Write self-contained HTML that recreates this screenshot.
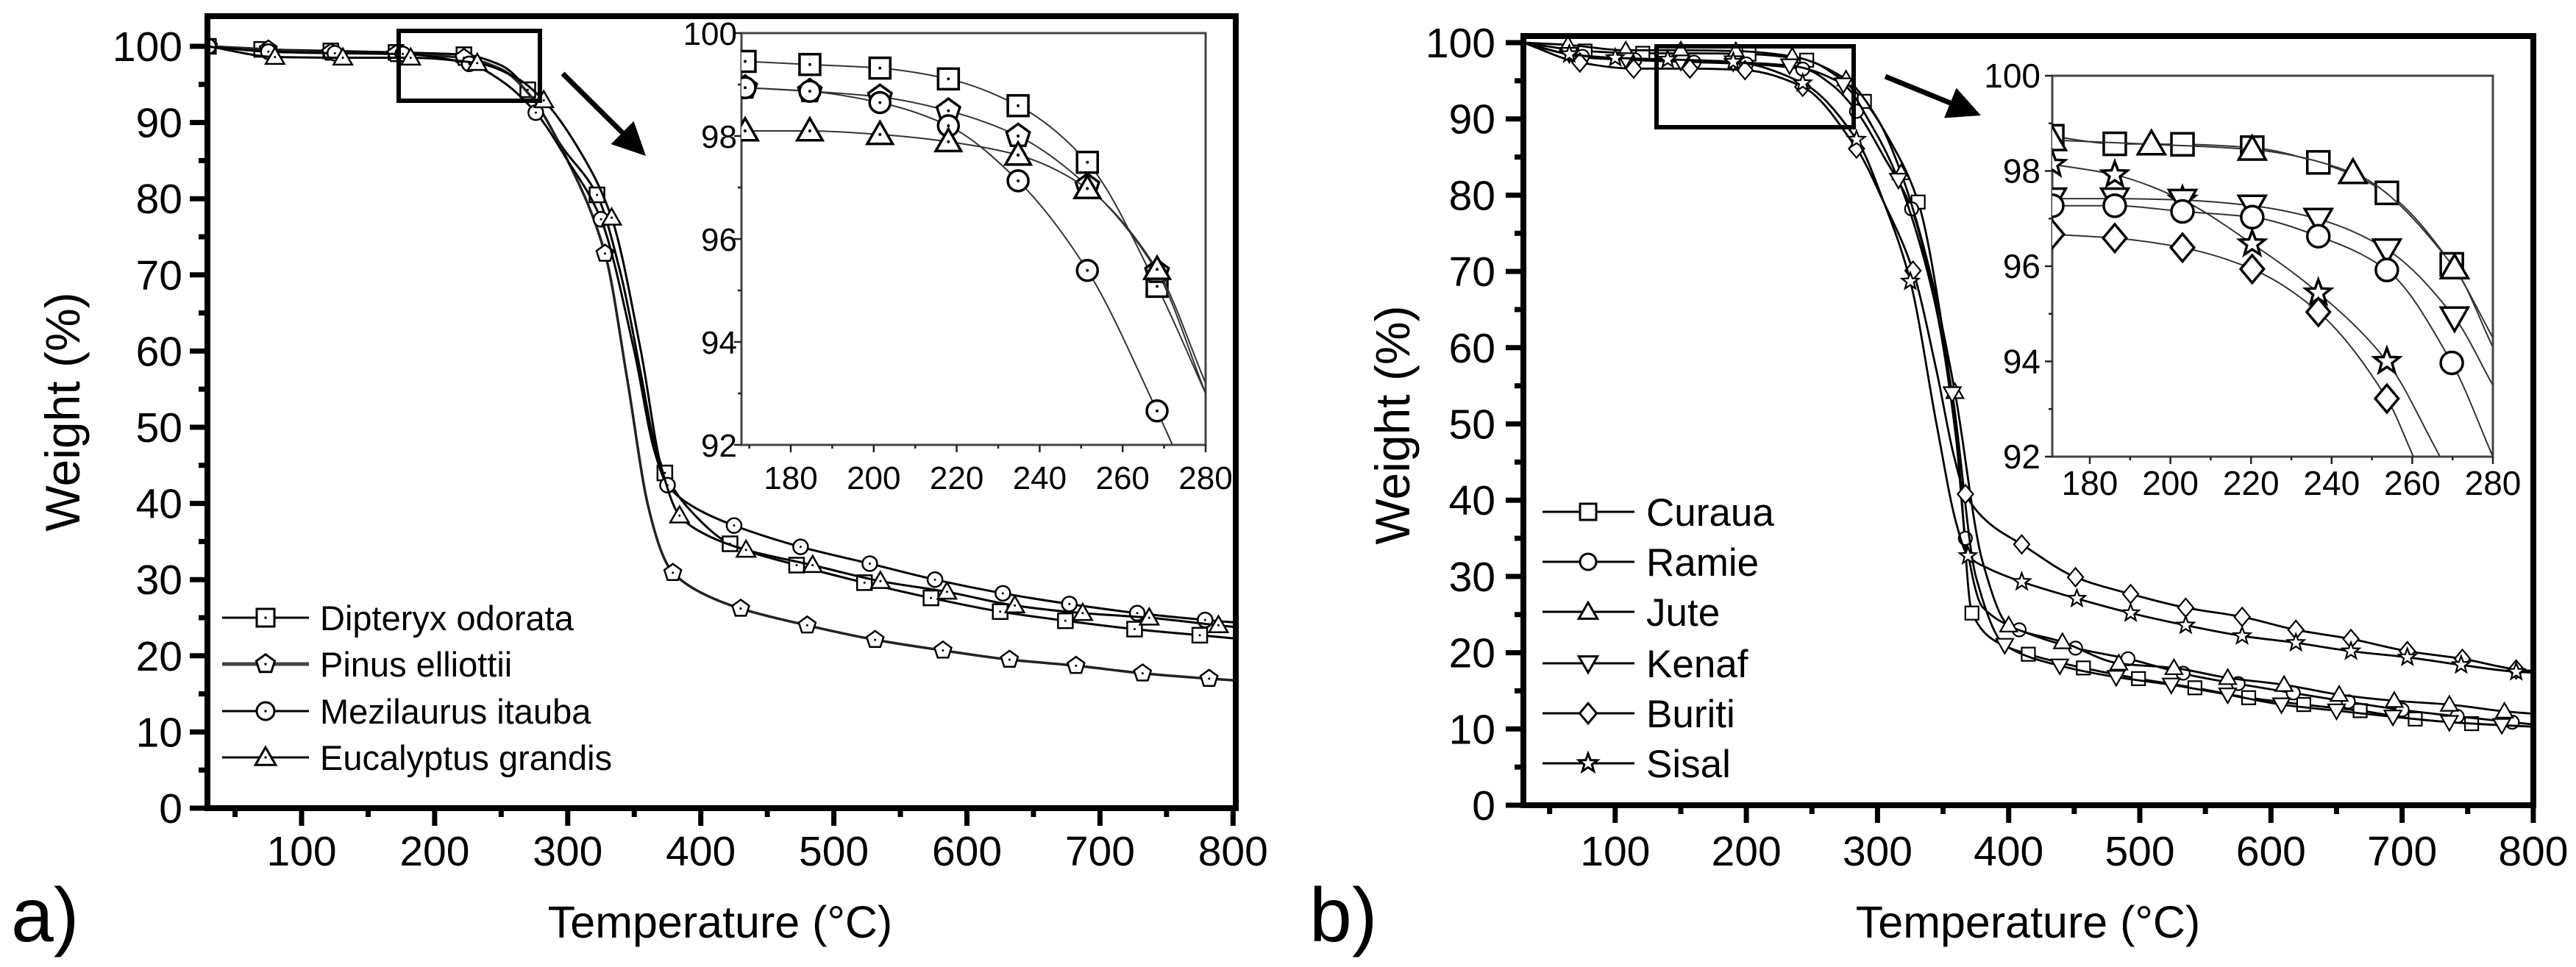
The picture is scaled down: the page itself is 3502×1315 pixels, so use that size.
<!DOCTYPE html>
<html><head><meta charset="utf-8">
<style>
html,body{margin:0;padding:0;background:#fff;}
svg{display:block;font-family:"Liberation Sans",Arial,sans-serif;}
</style></head>
<body>
<svg id="fig" width="3502" height="1315" viewBox="0 0 3502 1315" xmlns="http://www.w3.org/2000/svg">
  <rect x="0" y="0" width="3502" height="1315" fill="#fff"/>
  <defs>
    <clipPath id="clipA"><rect x="286" y="26" width="1390" height="1069"/></clipPath>
    <clipPath id="clipB"><rect x="2075" y="53" width="1365" height="1038"/></clipPath>
    <clipPath id="clipIA"><rect x="1008" y="45" width="631" height="560"/></clipPath>
    <clipPath id="clipIB"><rect x="2790" y="103" width="599" height="518"/></clipPath>
  </defs>
  <g id="panelA"></g>
  <g id="panelB"></g>

  <text x="15" y="1280" font-size="104">a)</text>
  <text x="1780" y="1280" font-size="104">b)</text>
  <text x="979" y="1275" font-size="61" text-anchor="middle">Temperature (°C)</text>
  <text x="2757" y="1275" font-size="61" text-anchor="middle">Temperature (°C)</text>
  <text x="108" y="560" font-size="66" text-anchor="middle" transform="rotate(-90 108 560)">Weight (%)</text>
  <text x="1916" y="578" font-size="66" text-anchor="middle" transform="rotate(-90 1916 578)">Weight (%)</text>

  <g font-size="47">
    <text x="435" y="857">Dipteryx odorata</text>
    <text x="435" y="920">Pinus elliottii</text>
    <text x="435" y="984">Mezilaurus itauba</text>
    <text x="435" y="1047">Eucalyptus grandis</text>
  </g>
  <g font-size="53">
    <text x="2238" y="715">Curaua</text>
    <text x="2238" y="783">Ramie</text>
    <text x="2238" y="851">Jute</text>
    <text x="2238" y="921">Kenaf</text>
    <text x="2238" y="989">Buriti</text>
    <text x="2238" y="1057">Sisal</text>
  </g>
</svg>
<script>
// ---------------- DATA: panel a (main) ----------------
const aDipT = [30,70,122,171,222,250,270,295,322,340,355,365,373,390,422,472,523,573,625,674,726,775,800];
const aDipW = [100,99.6,99.4,99.2,98.9,97.5,94.3,87,80.5,70,57,48,44,39.5,34.7,31.9,29.6,27.6,25.8,24.6,23.5,22.7,22.3];
const aDipM = [30,70,122,171,222,270,322,373,422,472,523,573,625,674,726,775];
const aPinT = [30,75,122,171,222,250,272,300,328,345,360,372,379,400,430,480,531,582,632,682,732,782,800];
const aPinW = [100,99.6,99.2,99.0,98.5,97,93.5,85,72.8,56,40,33,30.9,28.3,26.2,24.0,22.1,20.7,19.5,18.7,17.7,17.0,16.8];
const aPinM = [30,75,122,171,222,328,379,430,480,531,582,632,682,732,782];
const aMezT = [30,75,125,176,226,250,276,300,325,350,365,375,395,425,475,527,576,627,677,728,779,800];
const aMezW = [100,99.3,99.1,99.0,97.7,95.5,91.3,85,77.3,60,47,42.4,39.5,37.1,34.3,32.1,30.0,28.2,26.8,25.6,24.7,24.4];
const aMezM = [30,75,125,176,226,276,325,375,425,475,527,576,627,677,728,779];
const aEucT = [30,80,131,182,232,260,282,310,333,355,370,384,405,434,484,535,585,636,687,737,789,800];
const aEucW = [100,98.6,98.5,98.5,97.8,96,92.9,86,77.5,60,45,38.4,35.8,33.9,31.9,29.8,28.4,26.6,25.6,25.0,24.0,23.8];
const aEucM = [80,131,182,232,282,333,384,434,484,535,585,636,687,737,789];
// panel a inset (last point = curve tail, no marker)
const iaDipT = [169,184.6,201.5,218,234.8,251.5,268.3,280];
const iaDipW = [99.45,99.39,99.32,99.11,98.59,97.49,95.08,93.0];
const iaPinT = [169,184.6,201.5,218,234.8,251.5,268.3,280];
const iaPinW = [98.94,98.87,98.76,98.49,98.0,97.03,95.36,93.0];
const iaMezT = [169,184.6,201.5,218,234.8,251.5,268.3,272];
const iaMezW = [98.94,98.87,98.65,98.2,97.13,95.39,92.66,92.0];
const iaEucT = [169,184.6,201.5,218,234.8,251.5,268.3,280];
const iaEucW = [98.10,98.10,98.03,97.89,97.63,96.98,95.41,93.2];

// ---------------- DATA: panel b (main) ----------------
const bCurT = [30,77,121,160,202,246,270,290,310,331,350,362,372,390,415,457,499,542,583,625,668,710,753,800];
const bCurW = [100,98.9,98.6,98.6,98.5,97.7,95.5,92.3,87,79.1,62,45,25.2,21.5,19.8,18.0,16.6,15.4,14.1,13.2,12.4,11.3,10.7,10.3];
const bCurM = [77,121,202,246,290,331,372,415,457,499,542,583,625,668,710,753];
const bRamT = [30,80,150,200,245,265,284,305,326,345,360,367,380,408,451,491,540,600,650,700,750,800];
const bRamW = [100,98,97.5,97.2,96.5,94.5,91,85,78.2,65,48,35,26,23,20.6,19.2,17,15.2,13.8,12.5,11.5,10.6];
const bRamM = [75,115,160,200,243,284,326,367,408,451,491,533,575,617,659,700,742,784];
const bJutT = [30,64,108,150,192,235,276,300,318,340,359,380,400,441,484,526,567,610,652,694,736,778,800];
const bJutW = [100,99.7,99,99,98.9,98.2,95.2,90,82.9,70,54.2,32,23.6,21.4,18.6,18.0,16.7,15.8,14.5,13.7,13.2,12.3,12.0];
const bJutM = [64,108,150,192,235,276,318,359,400,441,484,526,567,610,652,694,736,778];
const bKenT = [30,65,108,150,190,233,274,296,316,338,357,375,397,439,482,524,567,608,650,693,736,776,800];
const bKenW = [100,98.5,97.8,97.5,97.4,97,94.5,89,82,70,54,30,21,18.3,16.8,15.8,14.5,13.2,12.4,11.6,10.9,10.5,10.3];
const bKenM = [65,108,150,190,233,274,316,357,397,439,482,524,567,608,650,693,736,776];
const bBurT = [30,73,114,157,199,243,284,305,327,345,358,367,385,410,451,493,535,578,619,661,704,746,787,800];
const bBurW = [100,97.4,96.6,96.6,96.4,94.2,86.1,79,70.1,57,46,40.8,37,34.2,29.9,27.7,25.9,24.7,23.0,21.8,20.2,19.2,17.8,17.6];
const bBurM = [73,114,157,199,243,284,327,367,410,451,493,535,578,619,661,704,746,787];
const bSisT = [30,65,100,140,190,243,284,305,325,345,360,369,385,410,452,493,535,578,619,661,704,745,787,800];
const bSisW = [100,98.5,98,97.8,97.5,94.7,87.3,79,68.7,50,37,32.7,31,29.3,27.1,25.2,23.6,22.2,21.3,20.2,19.4,18.4,17.5,17.4];
const bSisM = [65,100,140,190,243,284,325,369,410,452,493,535,578,619,661,704,745,787];
// panel b inset (last point = curve tail, no marker)
const ibCurT = [170.7,186.2,203,220.3,236.7,253.7,269.8,280];
const ibCurW = [98.73,98.57,98.56,98.49,98.18,97.54,96.04,94.5];
const ibJutT = [170.7,195.3,220.3,245.3,270.5,280];
const ibJutW = [98.65,98.56,98.45,97.96,95.96,94.3];
const ibSisT = [170.7,186.2,203,220.3,236.7,253.7,266.9];
const ibSisW = [98.14,97.92,97.39,96.47,95.44,94.0,92.0];
const ibKenT = [170.7,186.2,203,220.3,236.7,253.7,270.5,280];
const ibKenW = [97.42,97.42,97.39,97.27,96.99,96.35,94.92,93.5];
const ibRamT = [170.7,186.2,203,220.3,236.7,253.7,269.8,280];
const ibRamW = [97.27,97.27,97.15,97.03,96.63,95.92,93.97,92.0];
const ibBurT = [170.7,186.2,203,220.3,236.7,253.7,260.3];
const ibBurW = [96.67,96.59,96.39,95.94,95.04,93.22,92.0];

// tick labels
const mainYTicks = [0,10,20,30,40,50,60,70,80,90,100];
const mainXTicks = [100,200,300,400,500,600,700,800];
const insetYTicks = [92,94,96,98,100];
const insetXTicks = [180,200,220,240,260,280];

// ---------------- scales ----------------
const xa = t => 410 + (t - 100) * 1.809;
const ya = w => 1099 - w * 10.36;
const xb = t => 2071 + (t - 30) * 1.783;
const yb = w => 1095 - w * 10.37;
const xia = t => 1075 + (t - 180) * 5.64;
const yia = w => 45 + (100 - w) * 70;
const xib = t => 2841 + (t - 180) * 5.48;
const yib = w => 103 + (100 - w) * 64.75;

const NS = 'http://www.w3.org/2000/svg';
function mk(tag, attrs, parent) {
  const e = document.createElementNS(NS, tag);
  for (const k in attrs) e.setAttribute(k, attrs[k]);
  parent.appendChild(e);
  return e;
}
function interp(T, W, t) {
  for (let i = 0; i < T.length - 1; i++) {
    if (t >= T[i] && t <= T[i + 1]) return W[i] + (W[i + 1] - W[i]) * (t - T[i]) / (T[i + 1] - T[i]);
  }
  return t < T[0] ? W[0] : W[W.length - 1];
}
function monoPath(px, py) {
  const n = px.length;
  const d = [], m = [];
  for (let i = 0; i < n - 1; i++) d.push((py[i + 1] - py[i]) / (px[i + 1] - px[i]));
  m[0] = d[0]; m[n - 1] = d[n - 2];
  for (let i = 1; i < n - 1; i++) {
    if (d[i - 1] * d[i] <= 0) m[i] = 0;
    else m[i] = 2 / (1 / d[i - 1] + 1 / d[i]);
  }
  let s = 'M' + px[0].toFixed(1) + ',' + py[0].toFixed(1);
  for (let i = 0; i < n - 1; i++) {
    const h = px[i + 1] - px[i];
    s += ' C' + (px[i] + h / 3).toFixed(1) + ',' + (py[i] + m[i] * h / 3).toFixed(1) + ' ' +
      (px[i + 1] - h / 3).toFixed(1) + ',' + (py[i + 1] - m[i + 1] * h / 3).toFixed(1) + ' ' +
      px[i + 1].toFixed(1) + ',' + py[i + 1].toFixed(1);
  }
  return s;
}
function marker(parent, shape, cx, cy, s, sw, dot) {
  let e;
  if (shape === 'square') {
    e = mk('rect', {x: cx - s, y: cy - s, width: 2 * s, height: 2 * s}, parent);
  } else if (shape === 'circle') {
    e = mk('circle', {cx: cx, cy: cy, r: s}, parent);
  } else {
    let pts = [];
    if (shape === 'up') pts = [[0, -1.15], [1.15, 0.85], [-1.15, 0.85]];
    else if (shape === 'down') pts = [[0, 1.15], [1.15, -0.85], [-1.15, -0.85]];
    else if (shape === 'diamond') pts = [[0, -1.25], [1.05, 0], [0, 1.25], [-1.05, 0]];
    else if (shape === 'pent') { for (let k = 0; k < 5; k++) { const a = (-90 + 72 * k) * Math.PI / 180; pts.push([1.1 * Math.cos(a), 1.1 * Math.sin(a)]); } }
    else if (shape === 'star') { for (let k = 0; k < 10; k++) { const a = (-90 + 36 * k) * Math.PI / 180; const r = k % 2 ? 0.5 : 1.2; pts.push([r * Math.cos(a), r * Math.sin(a)]); } }
    e = mk('polygon', {points: pts.map(p => (cx + p[0] * s).toFixed(1) + ',' + (cy + p[1] * s).toFixed(1)).join(' ')}, parent);
  }
  e.setAttribute('fill', '#fff');
  e.setAttribute('stroke', '#000');
  e.setAttribute('stroke-width', sw);
  
  
  if (dot) {
    const c = mk('circle', {cx: cx, cy: cy, r: Math.max(1.5, s * 0.14), fill: '#000'}, parent);
    
    
  }
}

const A = document.getElementById('panelA');
const B = document.getElementById('panelB');

function drawAxes(g, xs, ys, left, right, top, bottom, labelRight, prefix) {
  const fr = mk('rect', {x: left, y: top, width: right - left, height: bottom - top, fill: 'none', stroke: '#000', 'stroke-width': 8}, g);
  
  
  for (let v = 0; v <= 100; v += 5) {
    const major = v % 10 === 0;
    const t = mk('line', {x1: left - (major ? 24 : 12), x2: left, y1: ys(v), y2: ys(v), stroke: '#000', 'stroke-width': 7}, g);
    
    
  }
  mainYTicks.forEach(v => {
    const tx = mk('text', {x: labelRight, y: ys(v) + 20, 'font-size': 57, 'text-anchor': 'end'}, g);
    tx.textContent = v;
    
    
  });
  for (let v = 50; v <= 800; v += 50) {
    const major = v % 100 === 0;
    const t = mk('line', {x1: xs(v), x2: xs(v), y1: bottom, y2: bottom + (major ? 24 : 12), stroke: '#000', 'stroke-width': 7}, g);
    
    
  }
  mainXTicks.forEach(v => {
    const tx = mk('text', {x: xs(v), y: 1177, 'font-size': 57, 'text-anchor': 'middle'}, g);
    tx.textContent = v;
    
    
  });
}

function drawSeries(g, clip, xs, ys, T, W, M, shape, s, sw, dot, lw, col, name) {
  const sg = mk('g', {'clip-path': 'url(#' + clip + ')'}, g);
  
  
  const p = mk('path', {d: monoPath(T.map(xs), W.map(ys)), fill: 'none', stroke: col, 'stroke-width': lw}, sg);
  
  
  M.forEach(t => marker(sg, shape, xs(t), ys(interp(T, W, t)), s, sw, dot));
}

function drawInset(g, clip, xs, ys, left, right, top, bottom, tmin, yLabR, xLabY, fs, prefix) {
  const bg = mk('rect', {x: left, y: top, width: right - left, height: bottom - top, fill: '#fff', stroke: '#444', 'stroke-width': 3}, g);
  
  
  for (let v = 92; v <= 100; v += 1) {
    const major = v % 2 === 0;
    const t = mk('line', {x1: left - (major ? 10 : 5), x2: left, y1: ys(v), y2: ys(v), stroke: '#222', 'stroke-width': 2.5}, g);
    
    
  }
  insetYTicks.forEach(v => {
    const tx = mk('text', {x: yLabR, y: ys(v) + 16, 'font-size': fs, 'text-anchor': 'end'}, g);
    tx.textContent = v;
    
    
  });
  for (let v = 170; v <= 280; v += 10) {
    if (v < tmin) continue;
    const major = v % 20 === 0;
    const t = mk('line', {x1: xs(v), x2: xs(v), y1: bottom, y2: bottom + (major ? 10 : 5), stroke: '#222', 'stroke-width': 2.5}, g);
    
    
  }
  insetXTicks.forEach(v => {
    const tx = mk('text', {x: xs(v), y: xLabY, 'font-size': fs, 'text-anchor': 'middle'}, g);
    tx.textContent = v;
    
    
  });
}

function drawInsetSeries(g, clip, xs, ys, T, W, shape, s, dot, name) {
  const sg = mk('g', {'clip-path': 'url(#' + clip + ')'}, g);
  
  
  const p = mk('path', {d: monoPath(T.map(xs), W.map(ys)), fill: 'none', stroke: '#333', 'stroke-width': 2}, sg);
  
  
  for (let i = 0; i < T.length - 1; i++) marker(sg, shape, xs(T[i]), ys(W[i]), s, 3.5, dot);
}

function arrow(g, x1, y1, x2, y2, name) {
  const ang = Math.atan2(y2 - y1, x2 - x1);
  const hl = 45, hw = 22;
  const bx = x2 - hl * Math.cos(ang), by = y2 - hl * Math.sin(ang);
  const l = mk('line', {x1: x1, y1: y1, x2: bx, y2: by, stroke: '#000', 'stroke-width': 7}, g);
  
  
  const px = -Math.sin(ang), py = Math.cos(ang);
  const h = mk('polygon', {points: x2 + ',' + y2 + ' ' + (bx + px * hw) + ',' + (by + py * hw) + ' ' + (bx - px * hw) + ',' + (by - py * hw), fill: '#000'}, g);
  
  
}

// ---------------- Panel A ----------------
drawAxes(A, xa, ya, 282, 1680, 22, 1099, 248, 'panel-a');
drawSeries(A, 'clipA', xa, ya, aDipT, aDipW, aDipM, 'square', 10, 2.5, true, 3, '#000', 'series-dipteryx');
drawSeries(A, 'clipA', xa, ya, aPinT, aPinW, aPinM, 'pent', 11, 2.5, true, 3.5, '#222', 'series-pinus');
drawSeries(A, 'clipA', xa, ya, aMezT, aMezW, aMezM, 'circle', 10, 2.5, true, 3, '#000', 'series-mezilaurus');
drawSeries(A, 'clipA', xa, ya, aEucT, aEucW, aEucM, 'up', 11, 2.5, true, 3, '#000', 'series-eucalyptus');
const zbA = mk('rect', {x: 542, y: 42, width: 192, height: 95, fill: 'none', stroke: '#000', 'stroke-width': 6}, A);


arrow(A, 765, 100, 878, 212, 'panel-a-zoom-arrow');
drawInset(A, 'clipIA', xia, yia, 1008, 1639, 45, 605, 168, 1002, 665, 44, 'panel-a');
drawInsetSeries(A, 'clipIA', xia, yia, iaDipT, iaDipW, 'square', 14, true, 'inset-a-dipteryx');
drawInsetSeries(A, 'clipIA', xia, yia, iaPinT, iaPinW, 'pent', 15, true, 'inset-a-pinus');
drawInsetSeries(A, 'clipIA', xia, yia, iaMezT, iaMezW, 'circle', 14, true, 'inset-a-mezilaurus');
drawInsetSeries(A, 'clipIA', xia, yia, iaEucT, iaEucW, 'up', 15, true, 'inset-a-eucalyptus');
const legA = [['square', 840, 3, '#000'], ['pent', 903, 5, '#444'], ['circle', 967, 3, '#000'], ['up', 1030, 3, '#000']];
legA.forEach(r => {
  const l = mk('line', {x1: 302, x2: 420, y1: r[1], y2: r[1], stroke: r[3], 'stroke-width': r[2]}, A);
  
  
  marker(A, r[0], 361, r[1], 12, 3, true);
});

// ---------------- Panel B ----------------
drawAxes(B, xb, yb, 2071, 3444, 49, 1095, 2033, 'panel-b');
drawSeries(B, 'clipB', xb, yb, bCurT, bCurW, bCurM, 'square', 9, 2.2, false, 2.8, '#000', 'series-curaua');
drawSeries(B, 'clipB', xb, yb, bRamT, bRamW, bRamM, 'circle', 9, 2.2, false, 2.8, '#000', 'series-ramie');
drawSeries(B, 'clipB', xb, yb, bJutT, bJutW, bJutM, 'up', 10, 2.2, false, 2.8, '#000', 'series-jute');
drawSeries(B, 'clipB', xb, yb, bKenT, bKenW, bKenM, 'down', 10, 2.2, false, 2.8, '#000', 'series-kenaf');
drawSeries(B, 'clipB', xb, yb, bBurT, bBurW, bBurM, 'diamond', 10, 2.2, false, 2.8, '#000', 'series-buriti');
drawSeries(B, 'clipB', xb, yb, bSisT, bSisW, bSisM, 'star', 10, 2.2, false, 2.8, '#000', 'series-sisal');
const zbB = mk('rect', {x: 2252, y: 63, width: 268, height: 110, fill: 'none', stroke: '#000', 'stroke-width': 6}, B);


arrow(B, 2563, 104, 2693, 157, 'panel-b-zoom-arrow');
drawInset(B, 'clipIB', xib, yib, 2790, 3389, 103, 621, 171, 2774, 673, 46, 'panel-b');
drawInsetSeries(B, 'clipIB', xib, yib, ibCurT, ibCurW, 'square', 15, false, 'inset-b-curaua');
drawInsetSeries(B, 'clipIB', xib, yib, ibJutT, ibJutW, 'up', 16, false, 'inset-b-jute');
drawInsetSeries(B, 'clipIB', xib, yib, ibSisT, ibSisW, 'star', 15, false, 'inset-b-sisal');
drawInsetSeries(B, 'clipIB', xib, yib, ibKenT, ibKenW, 'down', 16, false, 'inset-b-kenaf');
drawInsetSeries(B, 'clipIB', xib, yib, ibRamT, ibRamW, 'circle', 15, false, 'inset-b-ramie');
drawInsetSeries(B, 'clipIB', xib, yib, ibBurT, ibBurW, 'diamond', 15, false, 'inset-b-buriti');
const legB = [['square', 696], ['circle', 764], ['up', 832], ['down', 902], ['diamond', 970], ['star', 1038]];
legB.forEach(r => {
  const l = mk('line', {x1: 2097, x2: 2222, y1: r[1], y2: r[1], stroke: '#000', 'stroke-width': 3}, B);
  
  
  marker(B, r[0], 2159, r[1], 11, 3, false);
});
</script>
</body></html>
